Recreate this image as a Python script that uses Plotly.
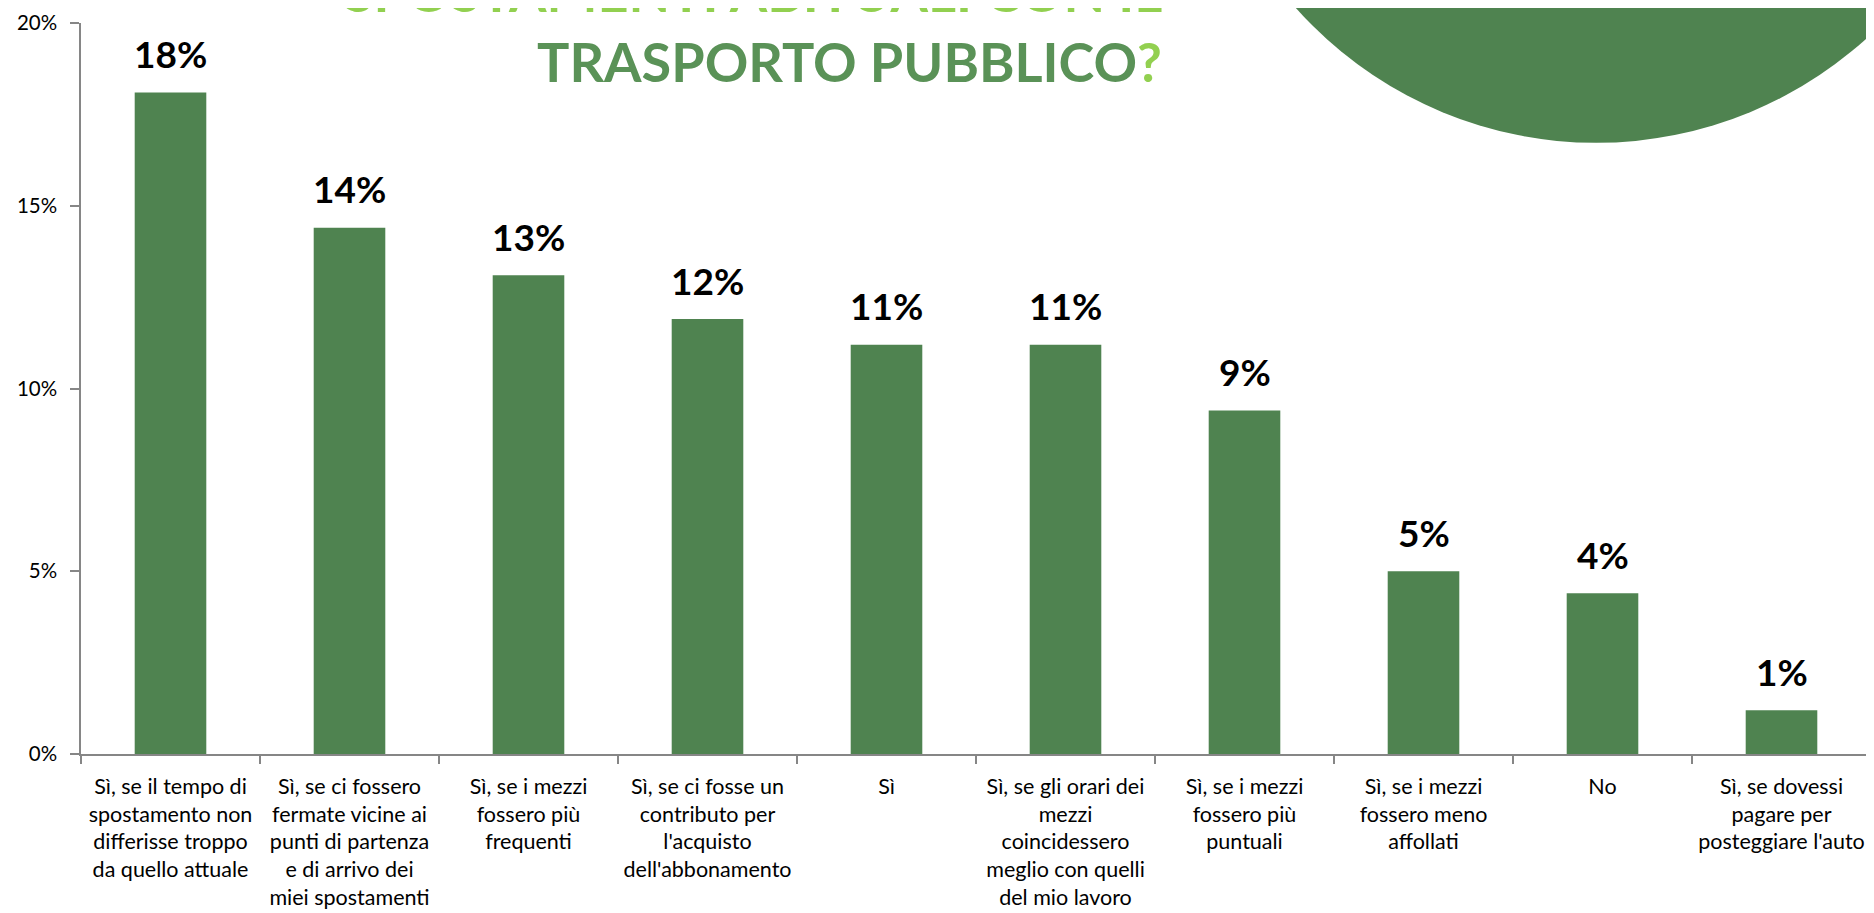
import plotly.graph_objects as go

# risposte (etichette asse x, già spezzate su più righe come nell'originale)
categories = [
    "Sì, se il tempo di<br>spostamento non<br>differisse troppo<br>da quello attuale",
    "Sì, se ci fossero<br>fermate vicine ai<br>punti di partenza<br>e di arrivo dei<br>miei spostamenti",
    "Sì, se i mezzi<br>fossero più<br>frequenti",
    "Sì, se ci fosse un<br>contributo per<br>l'acquisto<br>dell'abbonamento",
    "Sì",
    "Sì, se gli orari dei<br>mezzi<br>coincidessero<br>meglio con quelli<br>del mio lavoro",
    "Sì, se i mezzi<br>fossero più<br>puntuali",
    "Sì, se i mezzi<br>fossero meno<br>affollati",
    "No",
    "Sì, se dovessi<br>pagare per<br>posteggiare l'auto",
]
values = [0.181, 0.144, 0.131, 0.119, 0.112, 0.112, 0.094, 0.050, 0.044, 0.012]

title_line1 = "SPOSTAMENTI ABITUALI CON IL"
title_line2 = "TRASPORTO PUBBLICO"

BAR_GREEN = "#4F8350"
TITLE_GREEN = "#5A9257"
LIGHT_GREEN = "#92D050"
AXIS_GRAY = "#868686"
FONT = "Lato, 'Open Sans', sans-serif"

fig = go.Figure()
fig.add_trace(go.Bar(
    x=categories, y=values,
    marker=dict(color=BAR_GREEN, line_width=0),
    width=0.4,
    hoverinfo="skip",
))

# etichette dei valori sopra le barre
for cat, v in zip(categories, values):
    fig.add_annotation(
        x=cat, y=v, text=f"<b>{v:.0%}</b>", showarrow=False,
        yanchor="middle", yshift=39,
        font=dict(family=FONT, size=37, color="black"),
    )

# cerchio decorativo in alto a destra
fig.add_shape(
    type="circle", xref="paper", yref="paper",
    xsizemode="pixel", ysizemode="pixel",
    xanchor=0.8465, yanchor=1.386,
    x0=-402, x1=402, y0=-402, y1=402,
    fillcolor=BAR_GREEN, line_width=0, layer="above",
)

# titolo (prima riga tagliata dal bordo superiore)
fig.add_annotation(
    xref="paper", yref="paper", x=0.605, y=1.043,
    xanchor="right", yanchor="middle", showarrow=False,
    text=f"<b>{title_line1}</b>",
    font=dict(family=FONT, size=54, color=LIGHT_GREEN),
)
fig.add_annotation(
    xref="paper", yref="paper", x=0.605, y=0.948,
    xanchor="right", yanchor="middle", showarrow=False,
    text=f"<b>{title_line2}<span style='color:{LIGHT_GREEN}'>?</span></b>",
    font=dict(family=FONT, size=54, color=TITLE_GREEN),
)

# la pagina ha 8px di margine: figura ridotta di 8px per lato
fig.update_layout(
    width=1866, height=905,
    margin=dict(l=73, r=3, t=15, b=159, autoexpand=False),
    plot_bgcolor="white", paper_bgcolor="white",
    showlegend=False,
    font=dict(family=FONT, size=21.5, color="black"),
    xaxis=dict(
        type="category", tickson="boundaries", ticks="outside",
        ticklen=8, tickcolor=AXIS_GRAY, tickwidth=1.5,
        showline=True, linecolor=AXIS_GRAY, linewidth=1.5,
        showgrid=False, tickangle=0, automargin=False,
        ticklabelstandoff=12,
        tickfont=dict(family=FONT, size=21.5, color="black"),
    ),
    yaxis=dict(
        range=[0, 0.2], dtick=0.05, tickformat=".0%",
        ticks="outside", ticklen=9, tickcolor=AXIS_GRAY, tickwidth=1.5,
        showline=True, linecolor=AXIS_GRAY, linewidth=1.5,
        showgrid=False, zeroline=False, ticklabelstandoff=9,
        automargin=False,
        tickfont=dict(family=FONT, size=20.5, color="black"),
    ),
)

fig.write_html("out.html")
